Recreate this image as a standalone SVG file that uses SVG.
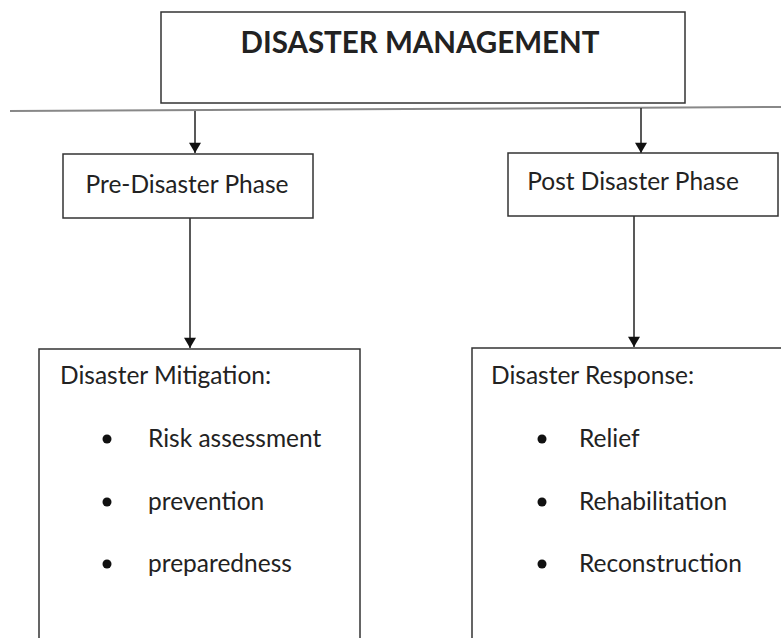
<svg xmlns="http://www.w3.org/2000/svg" width="781" height="638" viewBox="0 0 781 638">
<style>
.box{fill:#fff;stroke:#333;stroke-width:1.5}
.t{font-family:Lato,"Liberation Sans",sans-serif;fill:#222}
.lbl{font-size:24.5px}
.item{font-size:24.5px}
.conn{stroke:#222;stroke-width:1.5;fill:none}
</style>
<defs>
<marker id="arr" markerWidth="14" markerHeight="12" refX="12" refY="7" orient="auto" markerUnits="userSpaceOnUse" viewBox="0 0 12 14">
<path d="M0,0 L12,7 L0,14 Z" fill="#111"/>
</marker>
</defs>
<rect width="781" height="638" fill="#fff"/>
<g id="connectors">
<line x1="10" y1="111" x2="781" y2="107" stroke="#888" stroke-width="2"/>
<line class="conn" x1="195" y1="111" x2="195" y2="153" marker-end="url(#arr)"/>
<line class="conn" x1="641" y1="108" x2="641" y2="153" marker-end="url(#arr)"/>
<line class="conn" x1="190" y1="218" x2="190" y2="348" marker-end="url(#arr)"/>
<line class="conn" x1="634" y1="216" x2="634" y2="347" stroke="#999" marker-end="url(#arr)"/>
</g>
<g id="top">
<rect class="box" x="161" y="12" width="524" height="91"/>
<text class="t" x="420" y="53" text-anchor="middle" font-size="29.5" font-weight="bold" fill="#111">DISASTER MANAGEMENT</text>
</g>
<g id="pre">
<rect class="box" x="63" y="154" width="250" height="64"/>
<text class="t lbl" x="187" y="193" text-anchor="middle">Pre-Disaster Phase</text>
</g>
<g id="post">
<rect class="box" x="508" y="153" width="270" height="63"/>
<text class="t lbl" x="633" y="190" text-anchor="middle">Post Disaster Phase</text>
</g>
<g id="mitigation">
<rect class="box" x="39" y="349" width="321" height="300"/>
<text class="t lbl" x="60" y="384">Disaster Mitigation:</text>
<circle cx="107" cy="439" r="4.5" fill="#111"/>
<circle cx="107" cy="502" r="4.5" fill="#111"/>
<circle cx="107" cy="564" r="4.5" fill="#111"/>
<text class="t item" x="148" y="447">Risk assessment</text>
<text class="t item" x="148" y="510">prevention</text>
<text class="t item" x="148" y="572">preparedness</text>
</g>
<g id="response">
<rect class="box" x="472" y="348" width="320" height="300"/>
<text class="t lbl" x="491" y="384">Disaster Response:</text>
<circle cx="542" cy="439" r="4.5" fill="#111"/>
<circle cx="542" cy="502" r="4.5" fill="#111"/>
<circle cx="542" cy="564" r="4.5" fill="#111"/>
<text class="t item" x="579" y="447">Relief</text>
<text class="t item" x="579" y="510">Rehabilitation</text>
<text class="t item" x="579" y="572">Reconstruction</text>
</g>
</svg>
